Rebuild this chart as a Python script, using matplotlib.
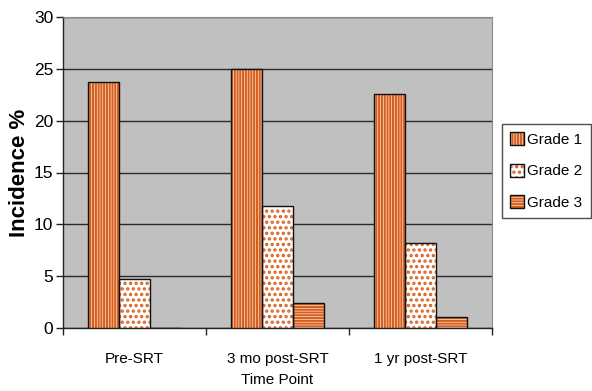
import matplotlib
matplotlib.use("Agg")
import matplotlib.pyplot as plt
import numpy as np
from matplotlib.legend_handler import HandlerTuple

categories = ["Pre-SRT", "3 mo post-SRT", "1 yr post-SRT"]
grade1 = [23.7, 25.0, 22.6]
grade2 = [4.7, 11.8, 8.2]
grade3 = [0.0, 2.4, 1.1]
series_names = ["Grade 1", "Grade 2", "Grade 3"]
y_ticks = [0, 5, 10, 15, 20, 25, 30]

plt.rcParams['font.family'] = ['Liberation Sans', 'DejaVu Sans']
plt.rcParams['hatch.linewidth'] = 1.6

orange = '#d8601f'
fig = plt.figure(figsize=(5.92, 3.91), dpi=100)
ax = fig.add_axes([63/592, 63/391, 429/592, 311/391])
ax.set_facecolor('#c0c0c0')

x = np.arange(len(categories))
w = 0.219
hatches = ['||||||', '...', '------']
series = [grade1, grade2, grade3]
handles = []
for i, (vals, h, name) in enumerate(zip(series, hatches, series_names)):
    pos = x + (i - 1) * w
    b1 = ax.bar(pos, vals, w, facecolor='white', edgecolor=orange, hatch=h, linewidth=0, zorder=3)
    b2 = ax.bar(pos, vals, w, fill=False, edgecolor='#111111', linewidth=1.0, zorder=4)
    handles.append((b1[0], b2[0]))

ax.set_xlim(-0.5, 2.5)
ax.set_ylim(0, 30)
ax.set_yticks(y_ticks)
ax.yaxis.grid(True, color='#2a2a2a', linewidth=1.0)
ax.set_axisbelow(True)
ax.set_xticks([-0.5, 0.5, 1.5, 2.5])
ax.set_xticklabels([])
ax.set_xticks(x, minor=True)
ax.set_xticklabels(categories, minor=True, fontsize=11)
ax.tick_params(axis='x', which='minor', length=0, pad=17)
ax.tick_params(axis='x', which='major', length=5, width=1, color='#222222')
ax.tick_params(axis='y', length=5, width=1, color='#222222', labelsize=12.5, pad=2)
for s in ['top', 'right']:
    ax.spines[s].set_color('#8a8a8a')
for s in ['left', 'bottom']:
    ax.spines[s].set_color('#222222')
    ax.spines[s].set_linewidth(1.0)

ax.set_ylabel("Incidence %", fontsize=16, fontweight='bold', labelpad=3)
ax.set_xlabel("Time Point", fontsize=11, labelpad=5)

leg = fig.legend(handles, series_names, handler_map={tuple: HandlerTuple(ndivide=1, pad=0)},
                 loc='upper left', bbox_to_anchor=(502/592, 1 - 124/391),
                 frameon=True, fancybox=False, edgecolor='#222222', fontsize=11,
                 handlelength=0.9, handleheight=0.9, handletextpad=0.2,
                 labelspacing=1.1, borderpad=0.55, borderaxespad=0)
leg.get_frame().set_linewidth(1.0)

fig.savefig("out.png", dpi=100)
